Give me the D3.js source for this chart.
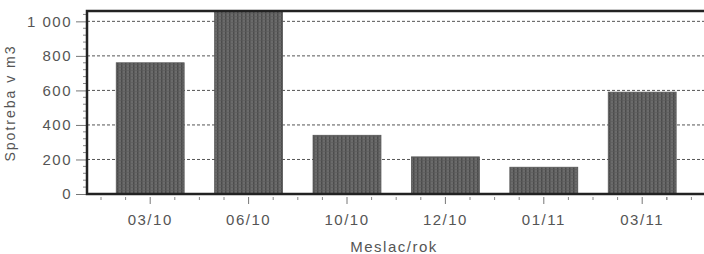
<!DOCTYPE html>
<html lang="sk">
<head>
<meta charset="utf-8">
<script src="https://d3js.org/d3.v7.min.js"></script>
<style>
  body { margin: 0; background: #fff; }
  text { font-family: "Liberation Sans", Arial, sans-serif; fill: #555; }
</style>
</head>
<body>
<script>

// data
const months = ["03/10", "06/10", "10/10", "12/10", "01/11", "03/11"]
const usage = [760, 1060, 340, 215, 155, 590]
const yTicks = [0, 200, 400, 600, 800, 1000]

const width = 704,
      height = 254,
      plotLeft = 87,
      plotTop = 11,
      plotBottom = 194,
      plotRight = 730   // frame runs past the window, like in the scan

const svg = d3.select('body')
  .append('svg')
  .attr('width', width)
  .attr('height', height)

// texture for the bars (scan looks like fine vertical hatching)
const defs = svg.append('defs')
const pat = defs.append('pattern')
  .attr('id', 'hatch')
  .attr('patternUnits', 'userSpaceOnUse')
  .attr('width', 4)
  .attr('height', 3)
pat.append('rect').attr('width', 4).attr('height', 3).attr('fill', '#6b6b6b')
pat.append('rect').attr('x', 1).attr('width', 1.5).attr('height', 3).attr('fill', '#4c4c4c')
pat.append('rect').attr('y', 1).attr('width', 4).attr('height', 0.6).attr('fill', '#5a5a5a')

defs.append('clipPath').attr('id', 'plot')
  .append('rect')
  .attr('x', plotLeft).attr('y', plotTop)
  .attr('width', plotRight - plotLeft).attr('height', plotBottom - plotTop)

const x = d3.scaleBand()
  .domain(months)
  .range([101, 101 + 6 * 98.4])
  .paddingInner(0.31)
  .paddingOuter(0.155)

const y = d3.scaleLinear()
  .domain([0, 1060])
  .range([plotBottom, plotTop])

// grid
svg.append('g')
  .selectAll('line')
  .data(yTicks.filter(d => d > 0))
  .enter()
  .append('line')
  .attr('x1', plotLeft).attr('x2', plotRight)
  .attr('y1', d => y(d)).attr('y2', d => y(d))
  .attr('stroke', '#555')
  .attr('stroke-width', 1)
  .attr('stroke-dasharray', '3,2')

// bars
svg.append('g')
  .attr('clip-path', 'url(#plot)')
  .selectAll('rect')
  .data(months)
  .enter()
  .append('rect')
  .attr('x', d => x(d))
  .attr('width', x.bandwidth())
  .attr('y', (d, i) => y(usage[i]))
  .attr('height', (d, i) => plotBottom - y(usage[i]))
  .attr('fill', 'url(#hatch)')
  .attr('stroke', '#555')
  .attr('stroke-width', 0.8)

// y axis
const yAxis = svg.append('g').attr('transform', 'translate(' + plotLeft + ',0)')
yAxis.call(d3.axisLeft(y).tickValues(yTicks).tickSize(11).tickPadding(4)
  .tickFormat(d => d >= 1000 ? d3.format(',')(d).replace(',', ' ') : d))
yAxis.select('.domain').remove()
yAxis.selectAll('line').attr('stroke', '#777')
yAxis.selectAll('text')
  .attr('font-size', 15)
  .attr('letter-spacing', '1.5px')
  .attr('fill', '#555')
  .attr('font-family', '"Liberation Sans", Arial, sans-serif')

// minor y ticks every 40
svg.append('g')
  .selectAll('line')
  .data(d3.range(40, 1060, 40).filter(d => d % 200 != 0))
  .enter()
  .append('line')
  .attr('x1', plotLeft - 4).attr('x2', plotLeft)
  .attr('y1', d => y(d)).attr('y2', d => y(d))
  .attr('stroke', '#888')

// x axis ticks: major at centres, minor every quarter step
const step = x.step()
const minor = []
months.forEach(m => {
  const c = x(m) + x.bandwidth() / 2
  ;[-2, -1, 1].forEach(k => minor.push(c + k * step / 4))
})
minor.push(x(months[5]) + x.bandwidth() / 2 + step / 4)
minor.push(x(months[5]) + x.bandwidth() / 2 + step / 2)

svg.append('g')
  .selectAll('line')
  .data(minor)
  .enter()
  .append('line')
  .attr('x1', d => d).attr('x2', d => d)
  .attr('y1', plotBottom + 3).attr('y2', plotBottom + 6)
  .attr('stroke', '#888')

const xAxis = svg.append('g').attr('transform', 'translate(0,' + plotBottom + ')')
xAxis.call(d3.axisBottom(x).tickSize(10).tickPadding(10))
xAxis.select('.domain').remove()
xAxis.selectAll('line').attr('stroke', '#777').attr('y1', 3)
xAxis.selectAll('text')
  .attr('font-size', 15)
  .attr('letter-spacing', '1.5px')
  .attr('fill', '#555')
  .attr('font-family', '"Liberation Sans", Arial, sans-serif')

// frame
svg.append('path')
  .attr('d', 'M' + plotRight + ',' + plotTop + 'H' + plotLeft + 'V' + plotBottom + 'H' + plotRight)
  .attr('fill', 'none')
  .attr('stroke', '#222')
  .attr('stroke-width', 2.5)

// axis titles
svg.append('text')
  .attr('transform', 'translate(15,' + 103 + ') rotate(-90)')
  .attr('text-anchor', 'middle')
  .attr('font-size', 14)
  .attr('letter-spacing', '2px')
  .text('Spotreba v m3')

svg.append('text')
  .attr('x', 394)
  .attr('y', 252)
  .attr('text-anchor', 'middle')
  .attr('font-size', 15)
  .attr('letter-spacing', '1.5px')
  .text('Meslac/rok')

</script>
</body>
</html>
